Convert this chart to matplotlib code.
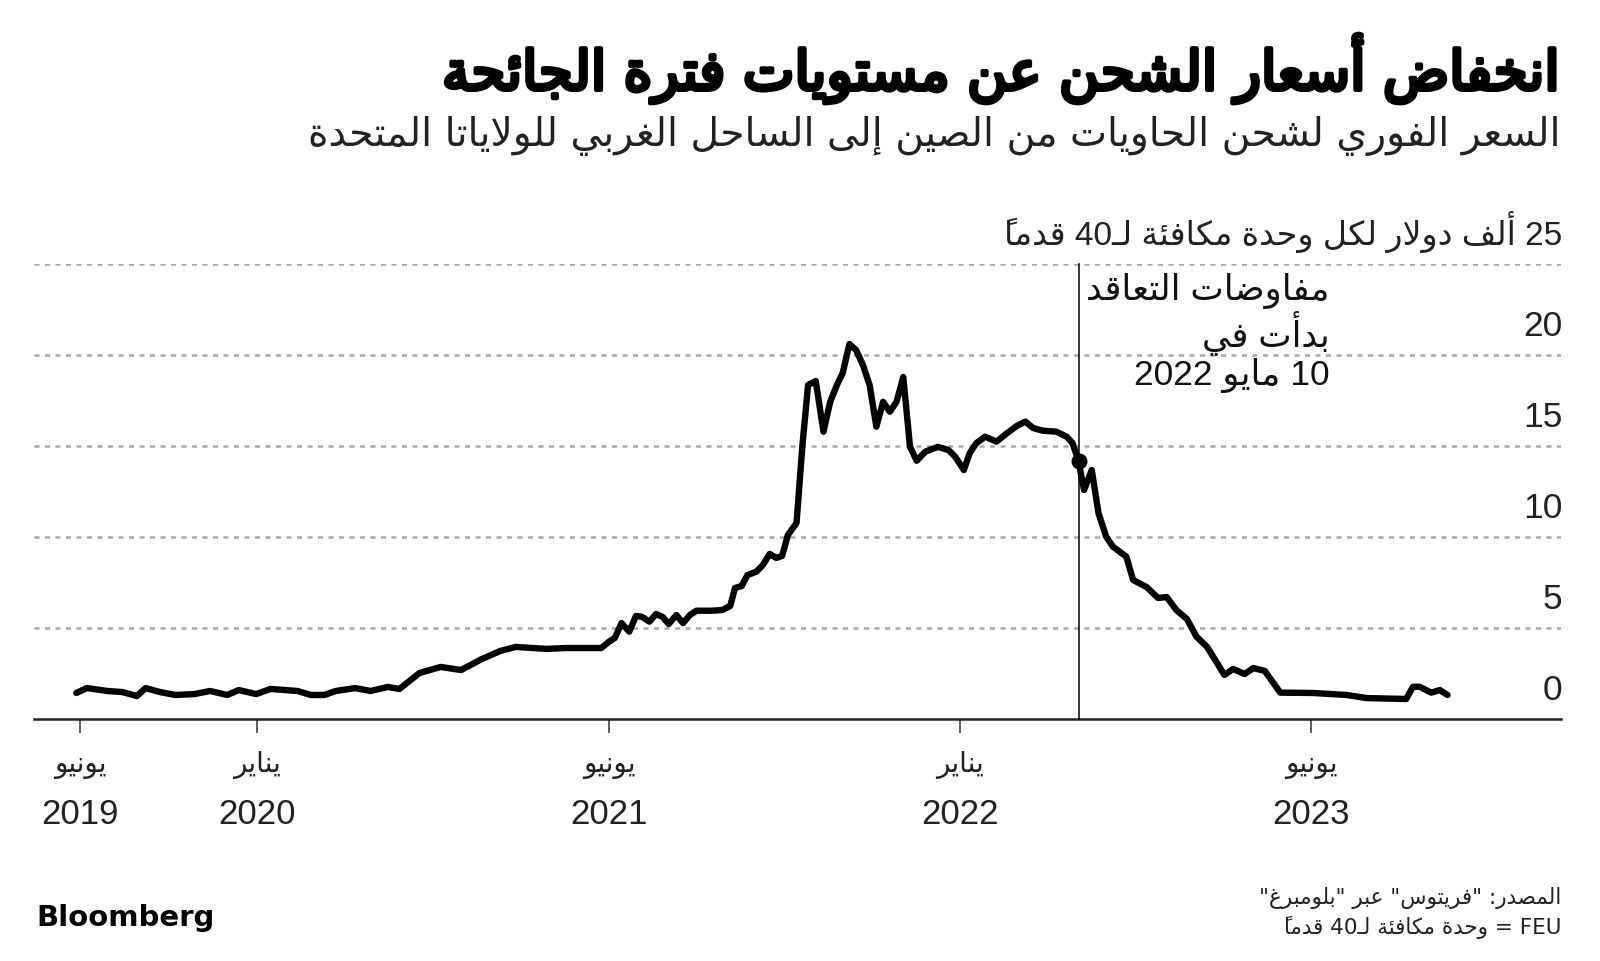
import matplotlib
matplotlib.use('Agg')
import matplotlib.pyplot as plt
import matplotlib.dates as mdates
import matplotlib.patheffects as pe
import matplotlib.transforms as mtransforms
import pandas as pd

# ---- data ----
DATES = [
    '2019-06-27', '2019-07-08', '2019-07-29', '2019-08-14', '2019-08-29', '2019-09-07',
    '2019-09-22', '2019-10-08', '2019-10-28', '2019-11-13', '2019-12-01', '2019-12-13',
    '2019-12-31', '2020-01-15', '2020-02-12', '2020-02-26', '2020-03-11', '2020-03-23',
    '2020-04-12', '2020-04-28', '2020-05-16', '2020-05-28', '2020-06-18', '2020-07-10',
    '2020-07-31', '2020-08-22', '2020-09-10', '2020-09-26', '2020-10-28', '2020-11-17',
    '2020-12-24', '2021-01-01', '2021-01-07', '2021-01-14', '2021-01-22', '2021-01-29',
    '2021-02-04', '2021-02-12', '2021-02-19', '2021-02-26', '2021-03-04', '2021-03-12',
    '2021-03-19', '2021-03-26', '2021-04-02', '2021-04-18', '2021-04-29', '2021-05-07',
    '2021-05-12', '2021-05-19', '2021-05-25', '2021-06-03', '2021-06-10', '2021-06-17',
    '2021-06-24', '2021-06-30', '2021-07-06', '2021-07-15', '2021-07-21', '2021-07-27',
    '2021-08-04', '2021-08-12', '2021-08-19', '2021-08-26', '2021-09-01', '2021-09-08',
    '2021-09-15', '2021-09-22', '2021-09-29', '2021-10-06', '2021-10-13', '2021-10-20',
    '2021-10-27', '2021-11-03', '2021-11-10', '2021-11-17', '2021-11-26', '2021-12-09',
    '2021-12-20', '2021-12-27', '2022-01-05', '2022-01-11', '2022-01-18', '2022-01-27',
    '2022-02-08', '2022-02-19', '2022-03-01', '2022-03-10', '2022-03-18', '2022-03-28',
    '2022-04-11', '2022-04-22', '2022-04-28', '2022-05-04', '2022-05-10', '2022-05-18',
    '2022-05-25', '2022-06-02', '2022-06-09', '2022-06-23', '2022-06-30', '2022-07-14',
    '2022-07-26', '2022-08-04', '2022-08-14', '2022-08-25', '2022-09-04', '2022-09-15',
    '2022-10-03', '2022-10-12', '2022-10-24', '2022-11-02', '2022-11-14', '2022-11-30',
    '2023-01-03', '2023-02-07', '2023-02-28', '2023-04-10', '2023-04-17', '2023-04-24',
    '2023-05-06', '2023-05-15', '2023-05-23',
]
RATES = [
    1.43, 1.70, 1.54, 1.48, 1.26, 1.70,
    1.48, 1.32, 1.37, 1.54, 1.32, 1.59,
    1.37, 1.65, 1.54, 1.32, 1.32, 1.54,
    1.70, 1.54, 1.76, 1.65, 2.53, 2.86,
    2.69, 3.30, 3.74, 3.96, 3.85, 3.90,
    3.90, 4.25, 4.45, 5.27, 4.80, 5.66,
    5.62, 5.35, 5.77, 5.60, 5.22, 5.71,
    5.27, 5.71, 5.95, 5.95, 5.99, 6.21,
    7.20, 7.31, 7.91, 8.09, 8.46, 9.07,
    8.85, 8.96, 10.11, 10.77, 14.96, 18.35,
    18.57, 15.79, 17.43, 18.35, 19.01, 20.60,
    20.27, 19.45, 18.35, 16.06, 17.43, 16.88,
    17.43, 18.79, 14.96, 14.19, 14.69, 14.95,
    14.78, 14.41, 13.68, 14.60, 15.16, 15.51,
    15.24, 15.71, 16.10, 16.34, 15.99, 15.84,
    15.79, 15.51, 15.16, 14.23, 12.58, 13.68,
    11.32, 10.02, 9.47, 8.92, 7.64, 7.25,
    6.65, 6.70, 5.99, 5.49, 4.52, 3.96,
    2.42, 2.75, 2.47, 2.80, 2.64, 1.45,
    1.43, 1.32, 1.15, 1.10, 1.77, 1.77,
    1.45, 1.59, 1.32,
]
EVENT_DATE = '2022-05-05'
EVENT_RATE = 14.2

Y_TICKS = [0, 5, 10, 15, 20, 25]
X_TICK_DATES = ['2019-07-01', '2020-01-01', '2021-01-01', '2022-01-01', '2023-01-01']
X_TICK_MONTHS = ['يونيو', 'يناير', 'يونيو', 'يناير', 'يونيو']
X_TICK_YEARS = ['2019', '2020', '2021', '2022', '2023']

TITLE = 'انخفاض أسعار الشحن عن مستويات فترة الجائحة'
SUBTITLE = 'السعر الفوري لشحن الحاويات من الصين إلى الساحل الغربي للولاياتا المتحدة'
UNIT = 'ألف دولار لكل وحدة مكافئة لـ40 قدماً'
NOTE_LINES = ['مفاوضات التعاقد', 'بدأت في', '10 مايو 2022']
SOURCE_LINES = ['المصدر: "فريتوس" عبر "بلومبرغ"', 'FEU = وحدة مكافئة لـ40 قدماً']

W, H = 1600, 961
NARROW = ['Liberation Sans Narrow', 'Liberation Sans', 'DejaVu Sans']
ARAB = ['DejaVu Sans']

# ---- minimal arabic shaping + bidi (matplotlib has none) ----
_BASE = {'ء': 0xFE80, 'آ': 0xFE81, 'أ': 0xFE83, 'ؤ': 0xFE85, 'إ': 0xFE87, 'ئ': 0xFE89,
         'ا': 0xFE8D, 'ب': 0xFE8F, 'ة': 0xFE93, 'ت': 0xFE95, 'ث': 0xFE99, 'ج': 0xFE9D,
         'ح': 0xFEA1, 'خ': 0xFEA5, 'د': 0xFEA9, 'ذ': 0xFEAB, 'ر': 0xFEAD, 'ز': 0xFEAF,
         'س': 0xFEB1, 'ش': 0xFEB5, 'ص': 0xFEB9, 'ض': 0xFEBD, 'ط': 0xFEC1, 'ظ': 0xFEC5,
         'ع': 0xFEC9, 'غ': 0xFECD, 'ف': 0xFED1, 'ق': 0xFED5, 'ك': 0xFED9, 'ل': 0xFEDD,
         'م': 0xFEE1, 'ن': 0xFEE5, 'ه': 0xFEE9, 'و': 0xFEED, 'ى': 0xFEEF, 'ي': 0xFEF1}
_DUAL = set('ئبتثجحخسشصضطظعغفقكلمنهي')
_RIGHT = set('آأؤإاةدذرزوى')
_LAM_ALEF = {'آ': 0xFEF5, 'أ': 0xFEF7, 'إ': 0xFEF9, 'ا': 0xFEFB}
_MARKS = set(chr(c) for c in range(0x064B, 0x0653))
TATWEEL = 'ـ'


def shape(s):
    toks = []
    i = 0
    while i < len(s):
        if s[i] == 'ل' and i + 1 < len(s) and s[i + 1] in _LAM_ALEF:
            toks.append((s[i:i + 2], 'R', True))
            i += 2
            continue
        c = s[i]
        if c in _DUAL:
            t = 'D'
        elif c in _RIGHT:
            t = 'R'
        elif c == TATWEEL:
            t = 'C'
        elif c in _MARKS:
            t = 'T'
        elif c in _BASE:
            t = 'U'
        else:
            t = 'X'
        toks.append((c, t, False))
        i += 1

    out = []
    for i, (c, t, lig) in enumerate(toks):
        if t in 'TXC':
            out.append(c)
            continue
        if t == 'U':
            out.append(chr(_BASE[c]))
            continue
        j = i - 1
        while j >= 0 and toks[j][1] == 'T':
            j -= 1
        k = i + 1
        while k < len(toks) and toks[k][1] == 'T':
            k += 1
        jp = j >= 0 and toks[j][1] in 'DC'
        jn = t == 'D' and k < len(toks) and toks[k][1] in 'DRC'
        if lig:
            out.append(chr(_LAM_ALEF[c[1]] + (1 if jp else 0)))
        elif t == 'R':
            out.append(chr(_BASE[c] + (1 if jp else 0)))
        else:
            off = 3 if (jp and jn) else 1 if jp else 2 if jn else 0
            out.append(chr(_BASE[c] + off))
    return ''.join(out)


def _cls(ch):
    o = ord(ch)
    if 0x0600 <= o <= 0x06FF or 0xFB50 <= o <= 0xFEFF:
        return 'R'
    if ch.isalnum():
        return 'L'
    return 'N'


def ar(s, rtl=True):
    """shape arabic and put it in visual (left to right) order"""
    s = shape(s)
    d = [_cls(c) for c in s]
    base = 'R' if rtl else 'L'
    res = d[:]
    i, n = 0, len(s)
    while i < n:
        if d[i] != 'N':
            i += 1
            continue
        j = i
        while j < n and d[j] == 'N':
            j += 1
        before = d[i - 1] if i > 0 else base
        after = d[j] if j < n else base
        for k in range(i, j):
            res[k] = before if before == after else base
        i = j
    runs = []
    for c, r in zip(s, res):
        if runs and runs[-1][0] == r:
            runs[-1][1].append(c)
        else:
            runs.append([r, [c]])
    seq = reversed(runs) if rtl else runs
    return ''.join(''.join(reversed(cs)) if r == 'R' else ''.join(cs) for r, cs in seq)


def fpos(x, y):
    return x / W, 1 - y / H


# ---- figure ----
fig = plt.figure(figsize=(W / 100, H / 100), dpi=100)
fig.patch.set_facecolor('white')

ax = fig.add_axes([34 / W, (H - 719) / H, 1527 / W, 455 / H])
ax.set_xlim(pd.Timestamp('2019-05-14'), pd.Timestamp('2023-09-18'))
ax.set_ylim(0, 25)
for sp in ax.spines.values():
    sp.set_visible(False)
ax.set_yticks([])

for v in Y_TICKS[1:]:
    ax.axhline(v, color='#a8a8a8', lw=1.8, ls=(0, (2, 2.2)), zorder=1)
ax.axhline(0, color='#222222', lw=1.8, zorder=2, clip_on=False)

dates = pd.to_datetime(DATES)
ax.plot(dates, RATES, color='black', lw=4.6, solid_joinstyle='round',
        solid_capstyle='round', zorder=4)

ev = pd.Timestamp(EVENT_DATE)
ax.plot([ev, ev], [0, 25], color='black', lw=1.1, zorder=3, clip_on=False)
ax.plot([ev], [EVENT_RATE], 'o', color='black', ms=10.5, zorder=5)

# x ticks
tick_dates = pd.to_datetime(X_TICK_DATES)
ax.set_xticks(tick_dates)
ax.set_xticklabels([])
ax.tick_params(axis='x', direction='out', length=10, width=1.1, color='#333333')
for d, m, y in zip(tick_dates, X_TICK_MONTHS, X_TICK_YEARS):
    ax.annotate(ar(m), xy=(mdates.date2num(d), 0), xytext=(0, -33), textcoords='offset points',
                ha='center', va='center', fontsize=20, family=ARAB, color='#222222')
    ax.annotate(y, xy=(mdates.date2num(d), 0), xytext=(0, -69), textcoords='offset points',
                ha='center', va='center', fontsize=25, family=NARROW, color='#222222')

# y labels above gridlines, right-aligned
blend = mtransforms.blended_transform_factory(ax.transAxes, ax.transData)
for v in Y_TICKS:
    top = v == Y_TICKS[-1]
    lab = ar(f'{v} {UNIT}') if top else str(v)
    ax.annotate(lab, xy=(1, v), xycoords=blend, xytext=(1, 14), textcoords='offset points',
                ha='right', va='baseline', fontsize=24 if top else 25.5,
                family=NARROW, color='#222222')

# event note (all lines right-to-left)
for i, line in enumerate(NOTE_LINES):
    x, y = fpos(1330, 291 + i * 42)
    fig.text(x, y, ar(line), ha='right', va='center', fontsize=25.5,
             family=NARROW, color='#111111')

# titles
x, y = fpos(1561, 68)
fig.text(x, y, ar(TITLE), ha='right', va='center', fontsize=39.5, family=ARAB, color='black',
         path_effects=[pe.withStroke(linewidth=3, foreground='black')])
x, y = fpos(1561, 136)
fig.text(x, y, ar(SUBTITLE), ha='right', va='center', fontsize=28.3, family=ARAB, color='#222222')

# footer
for i, line in enumerate(SOURCE_LINES):
    x, y = fpos(1561, 898 + i * 29)
    fig.text(x, y, ar(line), ha='right', va='center', fontsize=15.5, family=ARAB, color='#222222')
x, y = fpos(36, 918)
fig.text(x, y, 'Bloomberg', ha='left', va='center', fontsize=21, fontweight='bold',
         family=['DejaVu Sans'], color='black')

fig.savefig('out.png', dpi=100, facecolor='white')
